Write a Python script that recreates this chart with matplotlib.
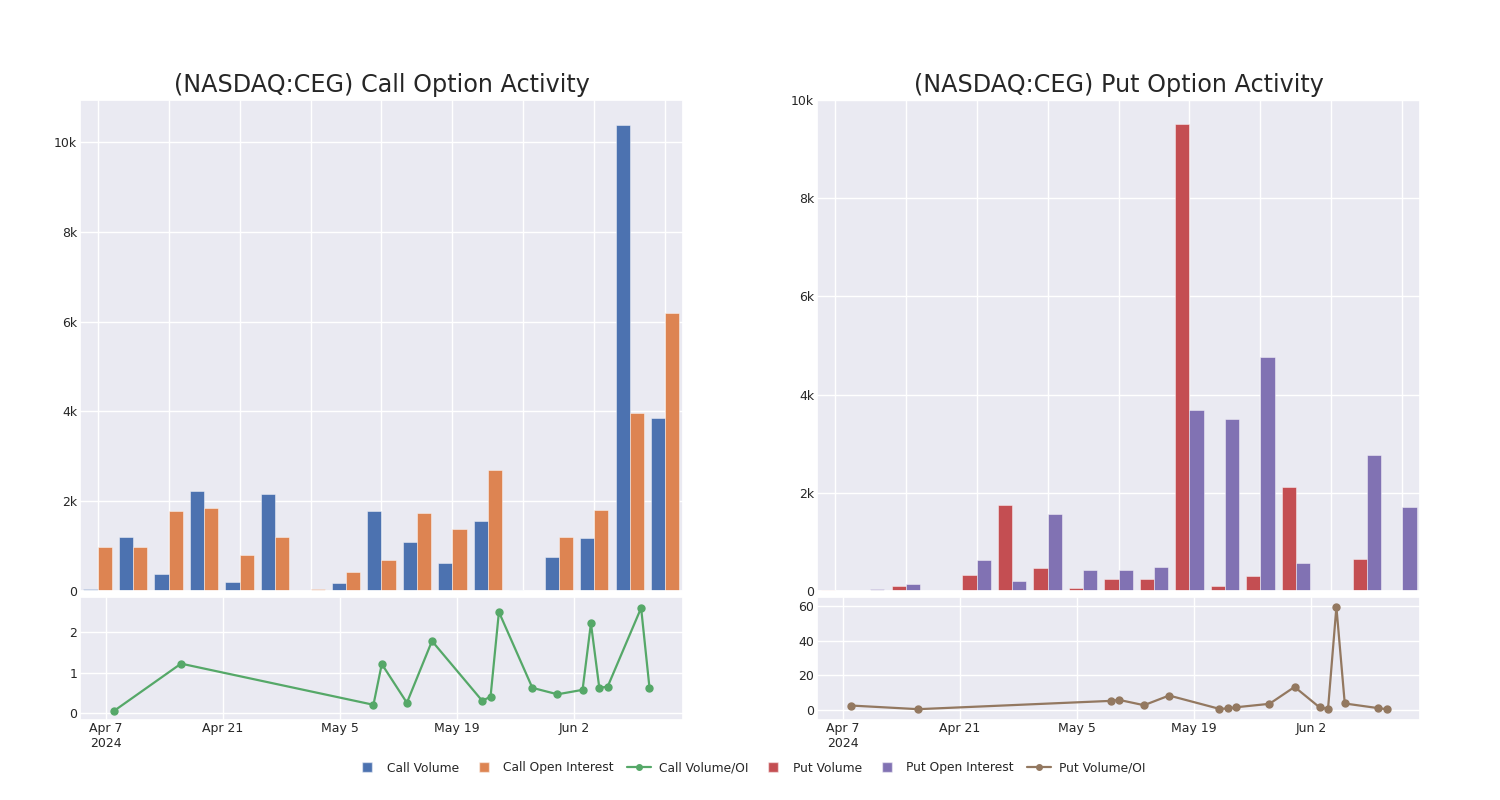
import numpy as np
import pandas as pd
import matplotlib
matplotlib.use('Agg')
import matplotlib.pyplot as plt
from matplotlib.lines import Line2D
from matplotlib.ticker import FuncFormatter
import seaborn as sns

# ====> data
dates = pd.to_datetime([
    '2024-04-08', '2024-04-16', '2024-05-09', '2024-05-10', '2024-05-13',
    '2024-05-16', '2024-05-22', '2024-05-23', '2024-05-24', '2024-05-28',
    '2024-05-31', '2024-06-03', '2024-06-04', '2024-06-05', '2024-06-06',
    '2024-06-10', '2024-06-11'])

call_volume = [50, 1200, 370, 2220, 190, 2150, 10, 170, 1780, 1080,
               630, 1550, 15, 750, 1180, 10380, 3860]
call_oi = [990, 975, 1790, 1840, 810, 1200, 50, 430, 700, 1740,
           1380, 2700, 5, 1200, 1810, 3960, 6200]
call_ratio = [0.05, 1.22, 0.2, 1.21, 0.25, 1.78, 0.3, 0.4, 2.5, 0.62,
              0.46, 0.57, 2.22, 0.62, 0.65, 2.6, 0.62]

put_volume = [15, 5, 95, 8, 333, 1760, 470, 61, 245, 245,
              9510, 100, 306, 2110, 5, 660, 8]
put_oi = [5, 40, 136, 0, 640, 211, 1560, 435, 435, 490,
          3690, 3500, 4760, 571, 0, 2770, 1710]
put_ratio = [2.3, 0.2, 5.0, 5.6, 2.5, 8.1, 0.4, 0.6, 1.3, 3.3,
             13.1, 1.2, 0.4, 59.4, 3.5, 0.8, 0.2]

date_ticks = pd.to_datetime(['2024-04-07', '2024-04-21', '2024-05-05',
                             '2024-05-19', '2024-06-02'])
date_tick_labels = ['Apr 7\n2024', 'Apr 21', 'May 5', 'May 19', 'Jun 2']

# ====> style
sns.set_theme(style='darkgrid')
plt.rcParams['font.family'] = ['DejaVu Sans']
text_col = '#262626'
pal = sns.color_palette('deep')
blue, orange, green, red, purple, brown = pal[0], pal[1], pal[2], pal[3], pal[4], pal[5]

fig = plt.figure(figsize=(15, 8), dpi=100)


def k_fmt(v, pos):
    return '0' if v == 0 else '%dk' % round(v / 1000)


def draw_panel(left, title, vol, oi, ratio, c1, c2, c3, ytop, yticks, lo_ylim, lo_yticks):
    ax = fig.add_axes([left, 0.2613, 0.402, 0.6137])
    ax2 = fig.add_axes([left, 0.1006, 0.402, 0.1531])
    x = np.arange(len(vol))
    w = 0.4
    ax.bar(x - w / 2, vol, w, color=c1, edgecolor=(1, 1, 1, 0.45), linewidth=0.7)
    ax.bar(x + w / 2, oi, w, color=c2, edgecolor=(1, 1, 1, 0.45), linewidth=0.7)
    ax.set_xlim(-0.5, len(vol) - 0.5)
    ax.set_xticks(np.arange(0, len(vol), 2))
    ax.set_xticklabels([])
    ax.set_ylim(0, ytop)
    ax.set_yticks(yticks)
    ax.yaxis.set_major_formatter(FuncFormatter(k_fmt))
    ax.tick_params(labelsize=9, labelcolor=text_col, length=0, pad=2)
    ax.set_title(title, fontsize=17.2, color=text_col, pad=6)

    ax2.plot(dates, ratio, color=c3, marker='o', markersize=5, linewidth=1.6)
    ax2.set_xlim(pd.Timestamp('2024-04-03 22:00'), pd.Timestamp('2024-06-15'))
    ax2.set_xticks(date_ticks)
    ax2.set_xticklabels(date_tick_labels)
    ax2.set_ylim(*lo_ylim)
    ax2.set_yticks(lo_yticks)
    ax2.tick_params(labelsize=9, labelcolor=text_col, length=0, pad=2)
    return ax, ax2


draw_panel(0.0533, '(NASDAQ:CEG) Call Option Activity', call_volume, call_oi, call_ratio,
           blue, orange, green, 10940, [0, 2000, 4000, 6000, 8000, 10000],
           (-0.165, 2.87), [0, 1, 2])
draw_panel(0.5447, '(NASDAQ:CEG) Put Option Activity', put_volume, put_oi, put_ratio,
           red, purple, brown, 10000, [0, 2000, 4000, 6000, 8000, 10000],
           (-5.8, 65.2), [0, 20, 40, 60])

# ====> legend
handles = [
    Line2D([], [], linestyle='none', marker='s', markersize=7, color=blue, markeredgecolor=(1, 1, 1, 0.5)),
    Line2D([], [], linestyle='none', marker='s', markersize=7, color=orange, markeredgecolor=(1, 1, 1, 0.5)),
    Line2D([], [], color=green, marker='o', markersize=4, linewidth=1.6),
    Line2D([], [], linestyle='none', marker='s', markersize=7, color=red, markeredgecolor=(1, 1, 1, 0.5)),
    Line2D([], [], linestyle='none', marker='s', markersize=7, color=purple, markeredgecolor=(1, 1, 1, 0.5)),
    Line2D([], [], color=brown, marker='o', markersize=4, linewidth=1.6),
]
labels = ['Call Volume', 'Call Open Interest', 'Call Volume/OI',
          'Put Volume', 'Put Open Interest', 'Put Volume/OI']
leg = fig.legend(handles, labels, loc='center', bbox_to_anchor=(0.5, 0.04), ncol=6,
                 frameon=False, fontsize=8.8, handlelength=2.0, handletextpad=0.6,
                 columnspacing=1.05)
for t in leg.get_texts():
    t.set_color(text_col)

fig.savefig('out.png', dpi=100)
plt.close(fig)
